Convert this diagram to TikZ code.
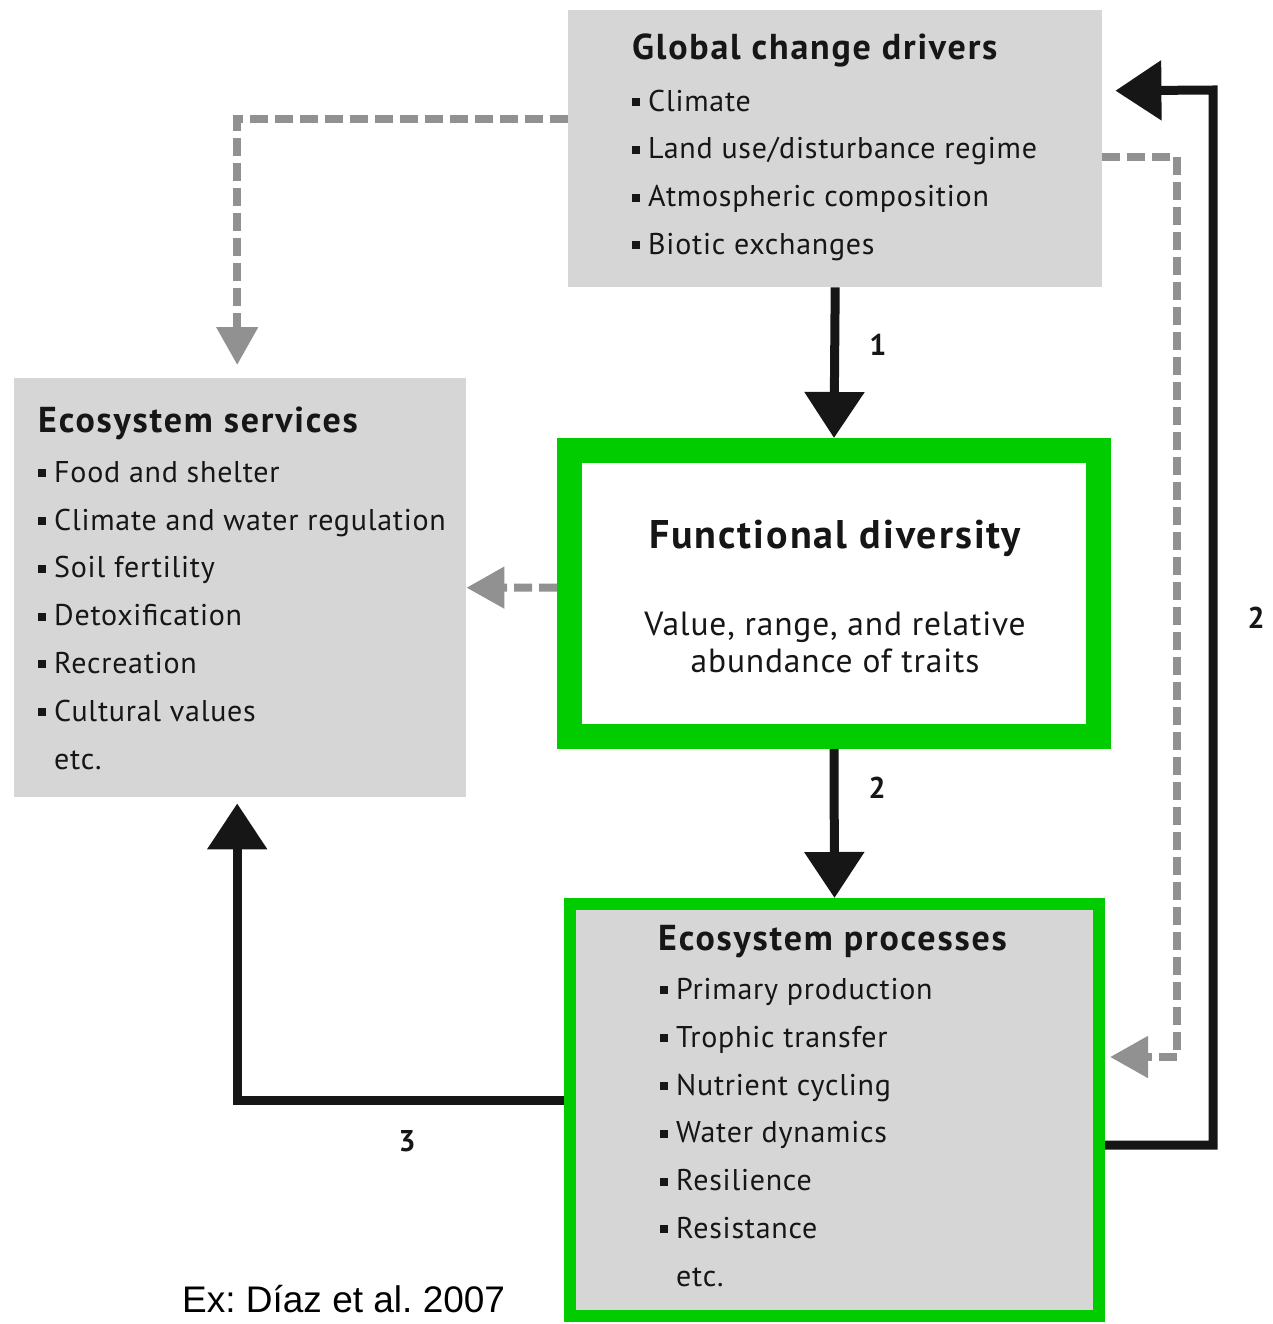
\documentclass[tikz,border=0pt]{standalone}
\usepackage{fontspec}
\setmainfont{PT Sans}
\newfontfamily\itemfont[LetterSpace=2.5]{PT Sans}
\newfontfamily\headfont[LetterSpace=5]{PT Sans}
\newfontfamily\citefont{Liberation Sans}
\usepackage{tikz}
\usetikzlibrary{arrows.meta,calc,positioning}
\definecolor{boxgray}{RGB}{214,214,214}
\definecolor{framegreen}{RGB}{0,204,0}
\definecolor{dashgray}{RGB}{145,145,145}
\definecolor{inkblack}{RGB}{22,22,22}
\newcommand{\bul}{\rule[5pt]{8pt}{8pt}\hspace{8pt}}
\tikzset{%
	graybox/.style   = {rectangle, fill=boxgray, inner sep=0pt, anchor=north west},
	greenbox/.style  = {rectangle, draw=framegreen, inner sep=0pt},
	boxtitle/.style  = {inner sep=0pt, anchor=base west, text=inkblack, font=\headfont\fontsize{36}{40}\selectfont\bfseries},
	itemlist/.style  = {inner sep=0pt, anchor=north west, align=left, text=inkblack, font=\itemfont\fontsize{30}{47.8}\selectfont},
	numlabel/.style  = {inner sep=0pt, text=inkblack, font=\fontsize{30}{36}\selectfont\bfseries},
	blackarrow/.style= {draw=inkblack, line width=9pt, -{Triangle[width=58pt,length=46pt]}},
	grayarrow/.style = {draw=dashgray, line width=8pt, dash pattern=on 18pt off 7pt, -{Triangle[width=40pt,length=38pt]}},
}

\begin{document}
\frenchspacing
\begin{tikzpicture}[x=1pt,y=-1pt]
	\useasboundingbox (0,0) rectangle (1273,1324);

	% boxes
	\node [graybox, minimum width=534pt, minimum height=277pt] (drivers) at (568,10) {};
	\node [graybox, minimum width=452pt, minimum height=419pt] (services) at (14,378) {};
	\node [greenbox, fill=white, line width=25pt, minimum width=529pt, minimum height=286pt] (fundiv) at (834,593.5) {};
	\node [greenbox, fill=boxgray, line width=12pt, minimum width=529pt, minimum height=412pt] (procs) at (834.5,1110) {};

	% texts
	\node [boxtitle] (driverstitle) at (632,60) {Global change drivers};
	\node [itemlist] (driverslist) at (632,89.5) {\bul Climate\\ \bul Land use/disturbance regime\\ \bul Atmospheric composition\\ \bul Biotic exchanges};
	\node [boxtitle] (servicestitle) at (38,432) {Ecosystem services};
	\node [itemlist] (serviceslist) at (38,461) {\bul Food and shelter\\ \bul Climate and water regulation\\ \bul Soil fertility\\ \bul Detoxification\\ \bul Recreation\\ \bul Cultural values\\ \phantom{\bul}etc.};
	\node [boxtitle, anchor=center, font=\headfont\fontsize{40}{46}\selectfont\bfseries] (fundivtitle) at (835,538) {Functional diversity};
	\node [inner sep=0pt, align=center, text=inkblack, font=\itemfont\fontsize{33.5}{37}\selectfont] (fundivtext) at (835,642) {Value, range, and relative\\abundance of traits};
	\node [boxtitle] (procstitle) at (658,950) {Ecosystem processes};
	\node [itemlist] (procslist) at (660,978) {\bul Primary production\\ \bul Trophic transfer\\ \bul Nutrient cycling\\ \bul Water dynamics\\ \bul Resilience\\ \bul Resistance\\ \phantom{\bul}etc.};
	\node [inner sep=0pt, anchor=base west, font=\citefont\fontsize{37}{40}\selectfont] (cite) at (182,1312) {Ex: Díaz et al. 2007};

	\coordinate (loopbot) at (1213,1145);
	\coordinate (looptop) at (1213,90);
	\coordinate (dashcorner) at (1177,1057);

	% gray dashed links
	\draw[grayarrow] ([yshift=30pt]drivers.west) -| ([xshift=-3pt,yshift=13pt]services.north);
	\draw[grayarrow] ([yshift=6pt]fundiv.west) -- (services.east);
	\draw[grayarrow] ([yshift=-8pt]drivers.east) -| (dashcorner) -- ([xshift=5pt,yshift=53pt]procs.east);

	% black links
	\draw[blackarrow] (drivers.south) -- node[numlabel, pos=0.38, right=30pt] {1} (fundiv.north);
	\draw[blackarrow] (fundiv.south) -- node[numlabel, pos=0.26, right=30pt] {2} (procs.north);
	\draw[blackarrow] ([yshift=-35pt]procs.east) -- (loopbot) -- node[numlabel, right=30pt] {2} (looptop) -- ([xshift=13pt,yshift=58pt]drivers.east);
	\draw[blackarrow] ([yshift=10pt]procs.west) -| node[numlabel, pos=0.24, below=26pt] {3} ([xshift=-3pt,yshift=-6pt]services.south);
\end{tikzpicture}
\end{document}
